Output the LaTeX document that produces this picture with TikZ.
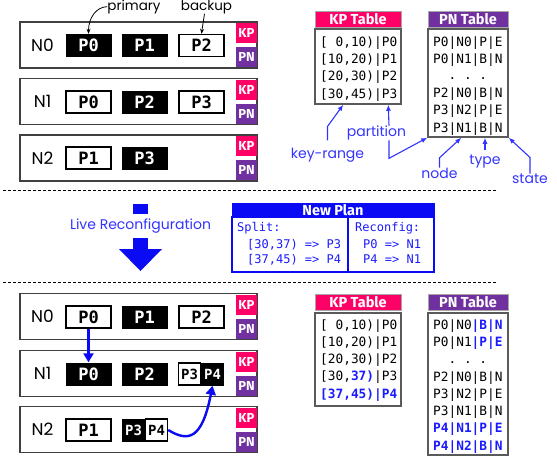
\documentclass[tikz,border=0pt]{standalone}
\usepackage{fontspec}
\setmainfont{Poppins}
\setmonofont{DejaVu Sans Mono}
\newfontfamily\titlefont{Fira Sans}
\usetikzlibrary{arrows.meta}
\definecolor{kpc}{HTML}{FF0066}
\definecolor{pnc}{HTML}{7030A0}
\definecolor{lblue}{HTML}{3333FF}
\definecolor{hblue}{HTML}{1A1AFF}
\definecolor{dblue}{HTML}{0A0AF5}
\definecolor{boxgray}{HTML}{404040}
\definecolor{tabgray}{HTML}{5A5A5A}
\newcommand{\hb}[1]{\textcolor{hblue}{\bfseries #1}}
\begin{document}
\begin{tikzpicture}[x=1pt,y=-1pt,
 nodebox/.style={draw=boxgray,line width=1.5pt,minimum width=237pt,minimum height=46pt,inner sep=0pt},
 ptext/.style={font=\ttfamily\bfseries\fontsize{17}{17}\selectfont},
 pblk/.style={ptext,fill=black,text=white,minimum width=46pt,minimum height=23pt,inner sep=0pt},
 pwht/.style={ptext,draw=black,line width=1.4pt,fill=white,text=black,minimum width=45pt,minimum height=22pt,inner sep=0pt},
 htext/.style={font=\ttfamily\bfseries\fontsize{14}{14}\selectfont},
 hblk/.style={pblk,htext,minimum width=23pt},
 hwht/.style={pwht,htext,minimum width=22pt},
 badge/.style={text=white,minimum width=21pt,minimum height=20pt,inner sep=0pt,font=\titlefont\bfseries\fontsize{13}{13}\selectfont},
 kpbadge/.style={badge,fill=kpc},
 pnbadge/.style={badge,fill=pnc},
 nlabel/.style={inner sep=0pt,font=\fontsize{17}{17}\selectfont},
 ttitle/.style={draw=gray!70,line width=0.6pt,text=white,minimum height=15.5pt,inner sep=0pt,font=\titlefont\bfseries\fontsize{14.5}{14.5}\selectfont},
 tbody/.style={draw=tabgray,line width=1.5pt,inner sep=0pt},
 row/.style={anchor=base west,inner sep=0pt,font=\ttfamily\fontsize{12.8}{12.8}\selectfont},
 planrow/.style={anchor=base west,inner sep=0pt,text=hblue,font=\ttfamily\fontsize{12}{12}\selectfont},
 ann/.style={text=lblue,inner sep=0pt,anchor=base,font=\fontsize{14}{14}\selectfont},
 annarrow/.style={draw=lblue,line width=1.1pt,-{Latex[length=6pt,width=5pt]}},
 blklabel/.style={inner sep=0pt,anchor=base,font=\fontsize{13.5}{13.5}\selectfont},
 blkarrow/.style={draw=black,line width=0.8pt,-{Stealth[length=5pt,width=4pt]}},
 movearrow/.style={draw=dblue,line width=2.4pt,-{Triangle[length=9pt,width=10pt]}},
 sep/.style={line width=1pt,dash pattern=on 3pt off 2pt}
]
\useasboundingbox (0,0) rectangle (557,456);

% ---------- top: nodes ----------
\node[nodebox] (tn0) at (138.5,45) {};
\node[nlabel] (tn0l) at (42.5,45) {N0};
\node[pblk] (tp0n0) at (88.5,45.5) {P0};
\node[pblk] (tp1n0) at (144.5,45.5) {P1};
\node[pwht] (tp2n0) at (201.5,45.5) {P2};
\node[kpbadge] (tkp0) at (246.5,33) {KP};
\node[pnbadge] (tpn0) at (246.5,57) {PN};

\node[nodebox] (tn1) at (138.5,101.5) {};
\node[nlabel] (tn1l) at (42.5,101.5) {N1};
\node[pwht] (tp0n1) at (88.5,102) {P0};
\node[pblk] (tp2n1) at (144.5,102) {P2};
\node[pwht] (tp3n1) at (201.5,102) {P3};
\node[kpbadge] (tkp1) at (246.5,89.5) {KP};
\node[pnbadge] (tpn1) at (246.5,113.5) {PN};

\node[nodebox] (tn2) at (138.5,158) {};
\node[nlabel] (tn2l) at (42.5,158) {N2};
\node[pwht] (tp1n2) at (88.5,158) {P1};
\node[pblk] (tp3n2) at (144.5,158) {P3};
\node[kpbadge] (tkp2) at (246.5,146) {KP};
\node[pnbadge] (tpn2) at (246.5,170) {PN};

\node[blklabel] (primary) at (134,10) {primary};
\node[blklabel] (backup) at (206.5,10) {backup};
\draw[blkarrow] (primary.west) .. controls (96,7) and (88.5,18) .. (tp0n0.north);
\draw[blkarrow] ([xshift=-2pt]backup.south) .. controls (203,22) .. (tp2n0.north);

% ---------- top: tables ----------
\node[ttitle,fill=kpc,minimum width=86pt] (kpt1) at (358,19.5) {KP Table};
\node[tbody,minimum width=86pt,minimum height=75pt] (kpb1) at (358,66.5) {};
\node[row] (k1r1) at (320,46) {[\phantom{0}0,10)|P0};
\node[row] (k1r2) at (320,63.3) {[10,20)|P1};
\node[row] (k1r3) at (320,80.7) {[20,30)|P2};
\node[row] (k1r4) at (320,98) {[30,45)|P3};

\node[ttitle,fill=pnc,minimum width=80pt] (pnt1) at (468,19.5) {PN Table};
\node[tbody,minimum width=80pt,minimum height=108pt] (pnb1) at (468,83) {};
\node[row] (p1r1) at (433,46) {P0|N0|P|E};
\node[row] (p1r2) at (433,63.5) {P0|N1|B|N};
\node[row] (p1r3) at (433,79.5) {\phantom{00}.\phantom{0}.\phantom{0}.};
\node[row] (p1r4) at (433,97) {P2|N0|B|N};
\node[row] (p1r5) at (433,114.5) {P3|N2|P|E};
\node[row] (p1r6) at (433,132) {P3|N1|B|N};

\node[ann] (keyrange) at (327.5,158) {key-range};
\node[ann] (partition) at (376.5,136.5) {partition};
\node[ann] (nodelbl) at (439.5,178.3) {node};
\node[ann] (typelbl) at (485,164) {type};
\node[ann] (statelbl) at (530,183.3) {state};

\draw[annarrow] ([yshift=7pt]keyrange.north) -- ++(0,-14) -- ([xshift=29pt]kpb1.south west);
\draw[annarrow] ([xshift=12.5pt]partition.north) -- ([xshift=74pt]kpb1.south west);
\draw[annarrow] ([xshift=12.5pt]partition.south) -- ++(0,18) -- (pnb1.south west);
\draw[annarrow] (nodelbl.north) -- ++(0,-10) -- ([xshift=34pt]pnb1.south west);
\draw[annarrow] ([yshift=4pt]typelbl.north) -- (typelbl.north |- pnb1.south);
\draw[annarrow] (statelbl.north) -- ++(0,-16) -- (pnb1.south east);

% ---------- middle ----------
\draw[sep] (3,190) -- (497,190);
\draw[sep] (3,282) -- (497,282);

\fill[dblue] (133,204) rectangle (148,214);
\node[text=lblue,inner sep=0pt,font=\fontsize{14}{14}\selectfont] (live) at (140.5,226) {Live Reconfiguration};
\fill[dblue] (133,238) rectangle (148,249);
\fill[dblue] (119,249) -- (162,249) -- (140.5,271) -- cycle;

\node[draw=dblue,fill=dblue,line width=1pt,text=white,minimum width=202pt,minimum height=14pt,inner sep=0pt,font=\titlefont\bfseries\fontsize{14.5}{14.5}\selectfont] (npt) at (333,210) {New Plan};
\node[draw=dblue,line width=1.5pt,minimum width=202pt,minimum height=55pt,inner sep=0pt] (npb) at (333,244.5) {};
\draw[dblue,line width=1.5pt] ([xshift=15pt]npb.north) -- ([xshift=15pt]npb.south);
\node[planrow] (np1) at (237,231) {Split:};
\node[planrow] (np2) at (247,248) {[30,37) => P3};
\node[planrow] (np3) at (247,263) {[37,45) => P4};
\node[planrow] (np4) at (355,231) {Reconfig:};
\node[planrow] (np5) at (363,248) {P0 => N1};
\node[planrow] (np6) at (363,263) {P4 => N1};

% ---------- bottom: nodes ----------
\node[nodebox] (bn0) at (138.5,316.5) {};
\node[nlabel] (bn0l) at (42.5,316.5) {N0};
\node[pwht] (bp0n0) at (88.5,317) {P0};
\node[pblk] (bp1n0) at (144.5,317) {P1};
\node[pwht] (bp2n0) at (201.5,317) {P2};
\node[kpbadge] (bkp0) at (246.5,304.5) {KP};
\node[pnbadge] (bpn0) at (246.5,328.5) {PN};

\node[nodebox] (bn1) at (138.5,373.5) {};
\node[nlabel] (bn1l) at (42.5,373.5) {N1};
\node[pblk] (bp0n1) at (88.5,374) {P0};
\node[pblk] (bp2n1) at (144.5,374) {P2};
\node[hwht] (bp3n1) at (189.5,374) {P3};
\node[hblk] (bp4n1) at (212.5,374) {P4};
\node[kpbadge] (bkp1) at (246.5,361.5) {KP};
\node[pnbadge] (bpn1) at (246.5,385.5) {PN};

\node[nodebox] (bn2) at (138.5,429.5) {};
\node[nlabel] (bn2l) at (42.5,429.5) {N2};
\node[pwht] (bp1n2) at (88.5,430) {P1};
\node[hblk] (bp3n2) at (133.5,430) {P3};
\node[hwht] (bp4n2) at (156.5,430) {P4};
\node[kpbadge] (bkp2) at (246.5,417.5) {KP};
\node[pnbadge] (bpn2) at (246.5,441.5) {PN};

\draw[movearrow] (bp0n0.south) -- (bp0n1.north);
\draw[movearrow] (bp4n2.east) .. controls (188,442) and (202,440) .. (bp4n1.south);

% ---------- bottom: tables ----------
\node[ttitle,fill=kpc,minimum width=86pt,minimum height=16.5pt] (kpt2) at (358,302.5) {KP Table};
\node[tbody,minimum width=86pt,minimum height=93pt] (kpb2) at (358,359.5) {};
\node[row] (k2r1) at (320,329) {[\phantom{0}0,10)|P0};
\node[row] (k2r2) at (320,346.3) {[10,20)|P1};
\node[row] (k2r3) at (320,363.6) {[20,30)|P2};
\node[row] (k2r4) at (320,380.9) {[30,\hb{37)}|P3};
\node[row] (k2r5) at (320,398.2) {\hb{[37,45)|P4}};

\node[ttitle,fill=pnc,minimum width=80pt,minimum height=16.5pt] (pnt2) at (468,302.5) {PN Table};
\node[tbody,minimum width=80pt,minimum height=142pt] (pnb2) at (468,384) {};
\node[row] (p2r1) at (433,329) {P0|N0\hb{|B|N}};
\node[row] (p2r2) at (433,346.3) {P0|N1\hb{|P|E}};
\node[row] (p2r3) at (433,363) {\phantom{00}.\phantom{0}.\phantom{0}.};
\node[row] (p2r4) at (433,381) {P2|N0|B|N};
\node[row] (p2r5) at (433,398.3) {P3|N2|P|E};
\node[row] (p2r6) at (433,415.6) {P3|N1|B|N};
\node[row] (p2r7) at (433,432.9) {\hb{P4|N1|P|E}};
\node[row] (p2r8) at (433,450.2) {\hb{P4|N2|B|N}};
\end{tikzpicture}
\end{document}
